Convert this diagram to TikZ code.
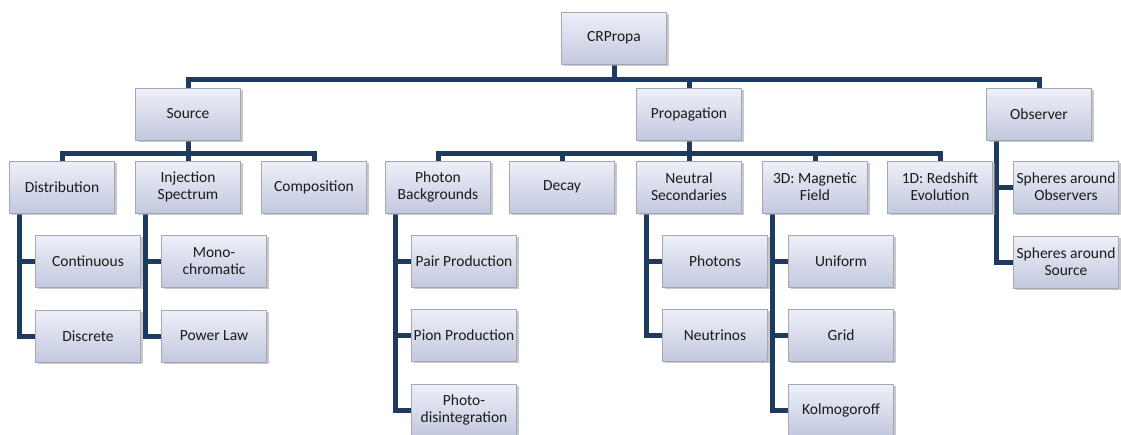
\documentclass[tikz,border=0pt]{standalone}
\usepackage{fontspec}
\setmainfont{Carlito}
\usetikzlibrary{shadows,backgrounds}
\definecolor{linecol}{HTML}{1E3A5F}
\definecolor{boxtop}{HTML}{EEF0F8}
\definecolor{boxbot}{HTML}{C2C8DF}
\definecolor{boxedge}{HTML}{A4A7B4}
\definecolor{txt}{HTML}{1A1A1A}
\begin{document}
\begin{tikzpicture}[x=1pt,y=-1pt,
  box/.style={rectangle, draw=boxedge, line width=0.8pt, top color=boxtop, bottom color=boxbot,
    minimum width=105pt, minimum height=52pt, align=center, text=txt, inner sep=1pt,
    font=\fontsize{15.5}{17}\selectfont,
    drop shadow={shadow xshift=2pt, shadow yshift=-2pt, fill=black!35, opacity=0.6}},
  conn/.style={draw=linecol, line width=5pt}]
\useasboundingbox (0,0) rectangle (1121,434);
\coordinate (b1) at (614,79);
\coordinate (b2) at (188,153);
\coordinate (b3) at (689,153);
% nodes
\node[box] (CR) at (614,38) {CRPropa};
\node[box] (Src) at (188,114) {Source};
\node[box] (Prop) at (689,114) {Propagation};
\node[box] (Obs) at (1039,114) {Observer};
\node[box] (Dist) at (62,187) {Distribution};
\node[box] (Inj) at (188,187) {Injection\\Spectrum};
\node[box] (Comp) at (314,187) {Composition};
\node[box] (Cont) at (88,261) {Continuous};
\node[box] (Disc) at (88,336) {Discrete};
\node[box] (Mono) at (214,261) {Mono-\\chromatic};
\node[box] (Pow) at (214,336) {Power Law};
\node[box] (Phot) at (438,187) {Photon\\Backgrounds};
\node[box] (Dec) at (562,187) {Decay};
\node[box] (Neu) at (689,187) {Neutral\\Secondaries};
\node[box] (Mag) at (815,187) {3D: Magnetic\\Field};
\node[box] (Red) at (940,187) {1D: Redshift\\Evolution};
\node[box] (Pair) at (464,261) {Pair Production};
\node[box] (Pion) at (464,335) {Pion Production};
\node[box] (Dis) at (464,410) {Photo-\\disintegration};
\node[box] (Pht) at (715,261) {Photons};
\node[box] (Nus) at (715,335) {Neutrinos};
\node[box] (Uni) at (841,261) {Uniform};
\node[box] (Grid) at (841,335) {Grid};
\node[box] (Kol) at (841,410) {Kolmogoroff};
\node[box] (SpO) at (1066,187) {Spheres around\\Observers};
\node[box] (SpS) at (1066,262) {Spheres around\\Source};
% trunk coordinates
\coordinate (dT) at ([xshift=10pt]Dist.south west);
\coordinate (iT) at ([xshift=10pt]Inj.south west);
\coordinate (pT) at ([xshift=10pt]Phot.south west);
\coordinate (nT) at ([xshift=10pt]Neu.south west);
\coordinate (mT) at ([xshift=10pt]Mag.south west);
\coordinate (oT) at ([xshift=10pt]Obs.south west);
\begin{scope}[on background layer]
\fill[white] (0,0) rectangle (1121,434);
\draw[conn] (CR.south) -- (b1);
\draw[conn] (Src.north) |- (b1);
\draw[conn] (Obs.north) |- (b1);
\draw[conn] (Prop.north) |- (b1);
\draw[conn] (Src.south) -- (b2);
\draw[conn] (Dist.north) |- (b2);
\draw[conn] (Comp.north) |- (b2);
\draw[conn] (Inj.north) -- (b2);
\draw[conn] (Prop.south) -- (b3);
\draw[conn] (Phot.north) |- (b3);
\draw[conn] (Red.north) |- (b3);
\draw[conn] (Dec.north) |- (b3);
\draw[conn] (Neu.north) -- (b3);
\draw[conn] (Mag.north) |- (b3);
\draw[conn] (dT) |- (Cont.west);
\draw[conn] (dT) |- (Disc.west);
\draw[conn] (iT) |- (Mono.west);
\draw[conn] (iT) |- (Pow.west);
\draw[conn] (pT) |- (Pair.west);
\draw[conn] (pT) |- (Pion.west);
\draw[conn] (pT) |- (Dis.west);
\draw[conn] (nT) |- (Pht.west);
\draw[conn] (nT) |- (Nus.west);
\draw[conn] (mT) |- (Uni.west);
\draw[conn] (mT) |- (Grid.west);
\draw[conn] (mT) |- (Kol.west);
\draw[conn] (oT) |- (SpO.west);
\draw[conn] (oT) |- (SpS.west);
\end{scope}
\end{tikzpicture}
\end{document}
